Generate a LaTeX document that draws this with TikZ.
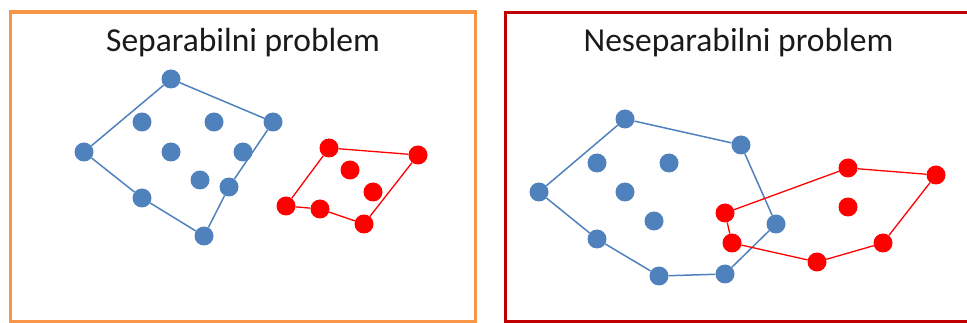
\documentclass[tikz,border=0pt]{standalone}
\usepackage{fontspec}
\setmainfont{Carlito}
\definecolor{ptblue}{HTML}{4F81BD}
\definecolor{ptred}{HTML}{FF0000}
\definecolor{frameorange}{HTML}{F79646}
\definecolor{framered}{HTML}{C00000}
\definecolor{titleink}{HTML}{1A1A1A}
\tikzset{
  bluedot/.style={circle, fill=ptblue, draw=none, inner sep=0pt, minimum size=19pt},
  reddot/.style={circle, fill=ptred, draw=none, inner sep=0pt, minimum size=19pt},
  bluehull/.style={draw=ptblue, line width=1.5pt},
  redhull/.style={draw=ptred, line width=1.3pt},
  title/.style={anchor=base, inner sep=0pt, text=titleink, font=\fontsize{33.5}{40}\selectfont},
  frame/.style={line width=3.6pt}
}
\begin{document}
\begin{tikzpicture}[x=1pt, y=-1pt]
\useasboundingbox (0,0) rectangle (967,323);

% panel frames
\draw[frame, draw=frameorange] (10.5,12) rectangle (475.5,321.5);
\draw[frame, draw=framered] (505.5,12.5) rectangle (990,321.5);

% titles
\node[title] (t1) at (243,52) {Separabilni problem};
\node[title] (t2) at (738.5,52) {Neseparabilni problem};

% ---- separable case: blue class ----
\node[bluedot] (a1) at (171,79) {};
\node[bluedot] (a2) at (142,122) {};
\node[bluedot] (a3) at (214,122) {};
\node[bluedot] (a4) at (273,122) {};
\node[bluedot] (a5) at (84,152) {};
\node[bluedot] (a6) at (171,152) {};
\node[bluedot] (a7) at (243,152) {};
\node[bluedot] (a8) at (200,180) {};
\node[bluedot] (a9) at (229,187) {};
\node[bluedot] (a10) at (142,198) {};
\node[bluedot] (a11) at (204,236) {};
\draw[bluehull] (a1) -- (a4) -- (a9) -- (a11) -- (a10) -- (a5) -- (a1);

% ---- separable case: red class ----
\node[reddot] (b1) at (329,148) {};
\node[reddot] (b2) at (418,155) {};
\node[reddot] (b3) at (350,170) {};
\node[reddot] (b4) at (373,192) {};
\node[reddot] (b5) at (286,206) {};
\node[reddot] (b6) at (320,209) {};
\node[reddot] (b7) at (364,224) {};
\draw[redhull] (b1) -- (b2) -- (b7) -- (b6) -- (b5) -- (b1);

% ---- non-separable case: blue class ----
\node[bluedot] (c1) at (625,119) {};
\node[bluedot] (c2) at (741,145) {};
\node[bluedot] (c3) at (597,163) {};
\node[bluedot] (c4) at (669,163) {};
\node[bluedot] (c5) at (539,192) {};
\node[bluedot] (c6) at (625,192) {};
\node[bluedot] (c7) at (654,221) {};
\node[bluedot] (c8) at (776,224) {};
\node[bluedot] (c9) at (597,239) {};
\node[bluedot] (c10) at (659,276) {};
\node[bluedot] (c11) at (725,274) {};
\draw[bluehull] (c1) -- (c2) -- (c8) -- (c11) -- (c10) -- (c9) -- (c5) -- (c1);

% ---- non-separable case: red class ----
\node[reddot] (d1) at (848,168) {};
\node[reddot] (d2) at (936,175) {};
\node[reddot] (d3) at (848,207) {};
\node[reddot] (d4) at (725,213) {};
\node[reddot] (d5) at (732,243) {};
\node[reddot] (d6) at (883,243) {};
\node[reddot] (d7) at (817,262) {};
\draw[redhull] (d4) -- (d1) -- (d2) -- (d6) -- (d7) -- (d5) -- (d4);
\end{tikzpicture}
\end{document}
